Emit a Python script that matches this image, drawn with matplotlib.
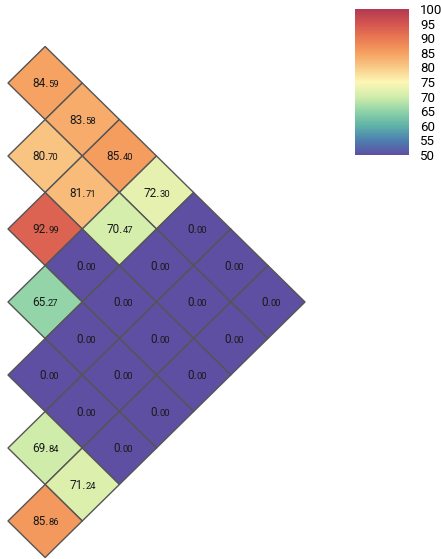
import numpy as np
import matplotlib.pyplot as plt
import matplotlib.transforms as mtransforms
from matplotlib.colors import LinearSegmentedColormap

plt.rcParams['font.family'] = ['Roboto', 'DejaVu Sans']

n = 7
# lower triangle of the matrix, row by row (row i holds columns 0..i)
rows = [
    [84.59],
    [83.58, 80.70],
    [85.40, 81.71, 92.99],
    [72.30, 70.47, 0.00, 65.27],
    [0.00, 0.00, 0.00, 0.00, 0.00],
    [0.00, 0.00, 0.00, 0.00, 0.00, 69.84],
    [0.00, 0.00, 0.00, 0.00, 0.00, 71.24, 85.86],
]
vmin, vmax = 50, 100
cbar_ticks = list(range(50, 101, 5))

mat = np.full((n, n), np.nan)
for i, r in enumerate(rows):
    mat[i, :len(r)] = r
data = np.ma.masked_invalid(mat)

# softened spectral ramp, purple (low) to red (high)
spectral_soft = LinearSegmentedColormap.from_list('spectral_soft', [
    '#5e4fa2', '#4d80b0', '#60b3a8', '#8fd3a8', '#d2edab', '#fdf6b4',
    '#f9ca88', '#f6a060', '#ea7a52', '#d45550', '#b23a52'])

fig = plt.figure(figsize=(4.41, 5.59), dpi=100)
W, H = 441, 559
ax = fig.add_axes([8 / W, 1.5 / H, 297 / W, 511 / H])

# turn the matrix 45 degrees so the diagonal runs top to bottom
rot = mtransforms.Affine2D.from_values(-1, -1, 1, -1, 0, 0)
mesh = ax.pcolor(np.arange(n + 1), np.arange(n + 1), data, cmap=spectral_soft,
                 vmin=vmin, vmax=vmax, edgecolor='#555555', linewidth=1.0,
                 transform=rot + ax.transData)
mesh.set_clip_on(False)

# value labels: "84." full size, decimals smaller on the same baseline
for i, r in enumerate(rows):
    for j, v in enumerate(r):
        x, y = rot.transform((j + 0.5, i + 0.5))
        whole, frac = f'{v:.2f}'.split('.')
        ax.text(x + 0.1, y - 0.12, whole + '.', ha='right', va='baseline',
                fontsize=8.5, color='#1a1a1a')
        ax.text(x + 0.08, y - 0.12, frac, ha='left', va='baseline',
                fontsize=6.8, color='#1a1a1a')

ax.set_xlim(-1, 7)
ax.set_ylim(-14, 0)
ax.axis('off')

cax = fig.add_axes([355 / W, 1 - 155 / H, 54 / W, 146 / H])
cb = fig.colorbar(mesh, cax=cax, ticks=cbar_ticks)
cb.outline.set_visible(False)
cb.ax.tick_params(length=0, pad=8, labelsize=9.5)

fig.savefig('out.png', dpi=100)
